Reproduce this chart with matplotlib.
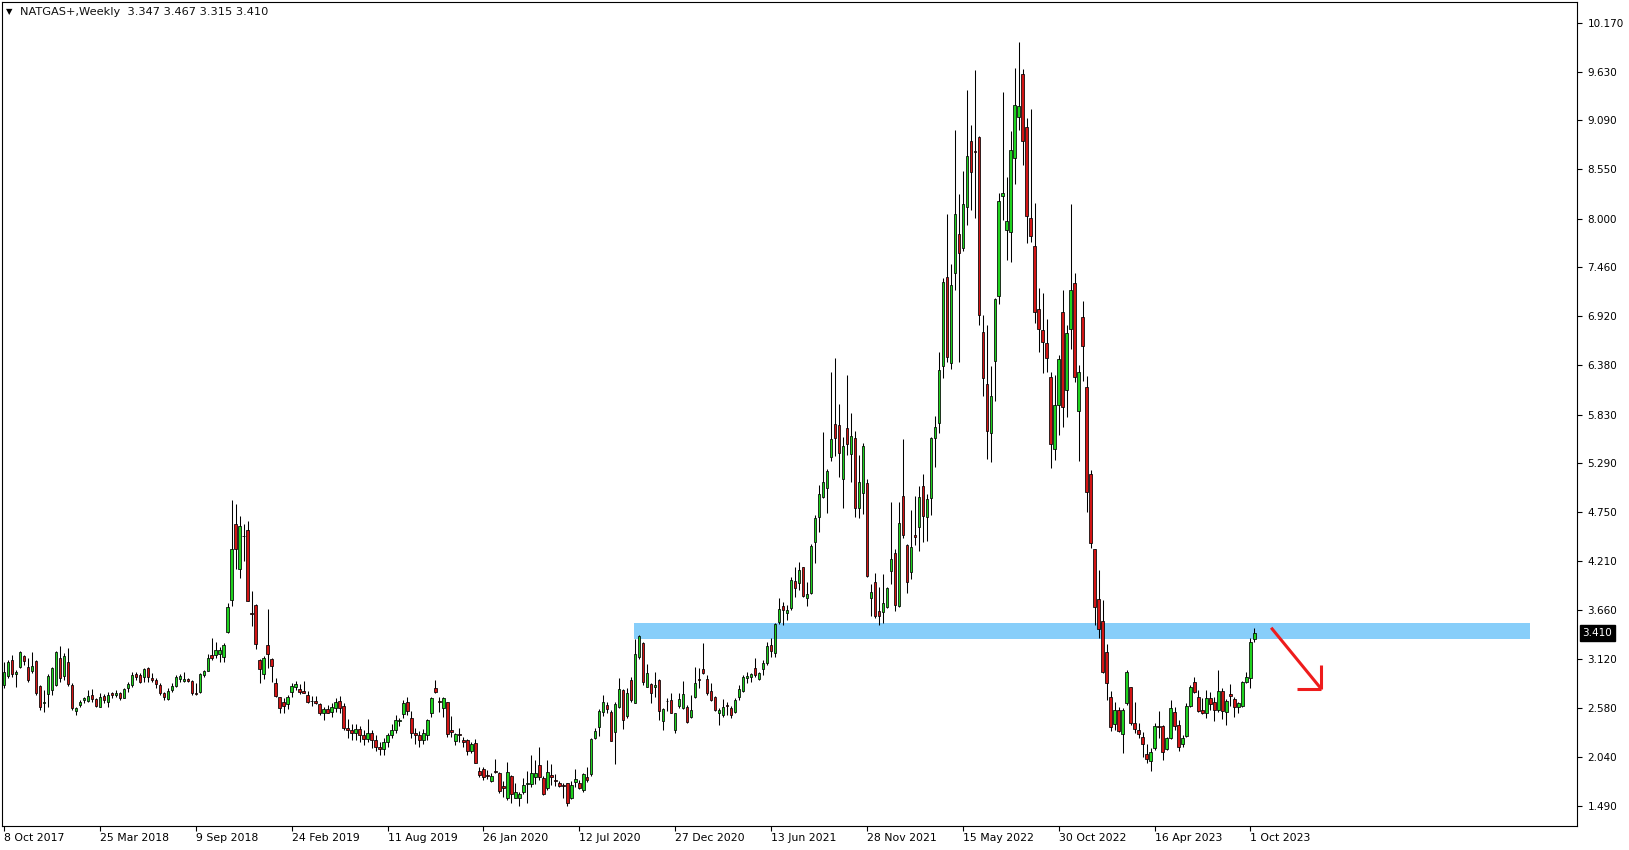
import matplotlib
matplotlib.use("Agg")
import matplotlib.pyplot as plt
from matplotlib.patches import Rectangle
import numpy as np

# weekly candles, first bar = week of 8 Oct 2017
opens = [
    2.833, 2.936, 3.110, 2.955, 3.029, 3.154, 3.029, 2.992, 3.099, 2.822,
    2.637, 2.730, 2.778, 2.833, 3.129, 2.933, 3.088, 2.833, 2.549, 2.611,
    2.667, 2.659, 2.722, 2.674, 2.593, 2.711, 2.648, 2.741, 2.722, 2.741,
    2.693, 2.796, 2.829, 2.955, 2.940, 2.918, 3.018, 2.907, 2.888, 2.833,
    2.748, 2.674, 2.778, 2.822, 2.896, 2.874, 2.896, 2.874, 2.748, 2.759,
    2.944, 2.992, 3.165, 3.165, 3.177, 3.147, 3.424, 3.775, 4.617, 4.115,
    4.490, 4.551, 3.628, 3.720, 3.110, 2.951, 3.276, 3.118, 2.859, 2.696,
    2.645, 2.619, 2.759, 2.814, 2.789, 2.770, 2.722, 2.659, 2.659, 2.622,
    2.527, 2.567, 2.538, 2.582, 2.656, 2.600, 2.360, 2.330, 2.300, 2.350,
    2.280, 2.240, 2.300, 2.220, 2.150, 2.120, 2.200, 2.280, 2.340, 2.430,
    2.510, 2.650, 2.470, 2.300, 2.280, 2.220, 2.280, 2.519, 2.796, 2.656,
    2.582, 2.641, 2.335, 2.213, 2.287, 2.224, 2.224, 2.106, 2.187, 1.880,
    1.902, 1.836, 1.773, 1.884, 1.862, 1.714, 1.585, 1.825, 1.585, 1.585,
    1.651, 1.732, 1.732, 1.810, 1.943, 1.799, 1.688, 1.836, 1.781, 1.751,
    1.725, 1.743, 1.577, 1.762, 1.743, 1.670, 1.817, 1.843, 2.242, 2.364,
    2.530, 2.612, 2.538, 2.316, 2.593, 2.778, 2.490, 2.889, 2.636, 3.139,
    3.301, 2.814, 2.840, 2.807, 2.888, 2.433, 2.660, 2.666, 2.330, 2.600,
    2.574, 2.592, 2.481, 2.703, 2.899, 3.006, 2.899, 2.766, 2.703, 2.518,
    2.500, 2.611, 2.574, 2.537, 2.703, 2.770, 2.914, 2.918, 3.017, 2.899,
    3.006, 3.072, 3.276, 3.183, 3.534, 3.708, 3.627, 3.682, 3.985, 3.959,
    4.137, 3.793, 3.848, 4.414, 4.698, 4.920, 5.020, 5.363, 5.721, 5.710,
    5.112, 5.677, 5.393, 5.566, 4.798, 4.957, 5.068, 3.800, 3.970, 3.656,
    3.645, 3.693, 4.100, 4.292, 3.712, 4.927, 4.384, 4.082, 4.495, 4.587,
    5.042, 4.698, 4.901, 5.566, 5.732, 6.367, 7.350, 6.397, 7.394, 7.830,
    7.671, 8.133, 8.861, 8.750, 8.909, 6.748, 6.168, 5.629, 6.426, 7.147,
    8.255, 7.875, 7.856, 8.669, 9.131, 9.603, 9.020, 8.004, 7.697, 6.995,
    6.766, 6.619, 6.242, 5.444, 5.935, 6.962, 6.101, 6.774, 7.284, 5.869,
    6.907, 6.131, 5.167, 4.336, 3.781, 3.546, 3.202, 2.696, 2.401, 2.556,
    2.286, 2.630, 2.807, 2.408, 2.334, 2.260, 2.068, 1.994, 2.131, 2.379,
    2.379, 2.120, 2.242, 2.537, 2.390, 2.179, 2.271, 2.600, 2.862, 2.704,
    2.556, 2.526, 2.685, 2.641, 2.556, 2.766, 2.537, 2.730, 2.678, 2.585,
    2.604, 2.862, 2.914, 3.347,
]
highs = [
    3.092, 3.110, 3.165, 3.000, 3.213, 3.165, 3.129, 3.202, 3.110, 2.833,
    2.778, 2.955, 3.036, 3.213, 3.269, 3.184, 3.239, 2.851, 2.593, 2.667,
    2.704, 2.778, 2.785, 2.685, 2.741, 2.733, 2.759, 2.759, 2.778, 2.759,
    2.796, 2.870, 2.981, 2.981, 2.962, 3.018, 3.036, 2.962, 2.907, 2.851,
    2.759, 2.796, 2.851, 2.944, 2.955, 2.981, 2.907, 2.888, 2.859, 2.962,
    3.000, 3.177, 3.350, 3.313, 3.258, 3.302, 3.738, 4.883, 4.839, 4.706,
    4.617, 4.651, 3.875, 3.731, 3.118, 3.155, 3.675, 3.129, 2.907, 2.704,
    2.685, 2.722, 2.851, 2.877, 2.844, 2.877, 2.767, 2.711, 2.711, 2.630,
    2.593, 2.611, 2.637, 2.685, 2.711, 2.630, 2.460, 2.400, 2.400, 2.380,
    2.330, 2.460, 2.330, 2.280, 2.200, 2.250, 2.300, 2.400, 2.500, 2.470,
    2.670, 2.700, 2.550, 2.360, 2.320, 2.350, 2.460, 2.704, 2.889, 2.704,
    2.704, 2.649, 2.490, 2.298, 2.353, 2.254, 2.235, 2.205, 2.235, 1.928,
    1.928, 1.891, 1.854, 2.013, 1.873, 1.773, 1.976, 1.836, 1.751, 1.651,
    1.806, 1.884, 2.058, 2.002, 2.143, 1.825, 2.002, 1.958, 1.847, 1.773,
    1.743, 1.751, 1.773, 1.899, 1.780, 1.862, 1.928, 2.242, 2.353, 2.564,
    2.722, 2.649, 2.556, 2.649, 2.907, 2.785, 2.796, 2.926, 3.338, 3.386,
    3.313, 3.061, 2.851, 2.980, 2.895, 2.574, 2.685, 2.747, 2.520, 2.740,
    2.877, 2.611, 2.722, 3.028, 3.017, 3.294, 2.943, 2.858, 2.711, 2.574,
    2.677, 2.648, 2.600, 2.685, 2.833, 2.943, 2.980, 2.969, 3.128, 2.980,
    3.109, 3.312, 3.350, 3.516, 3.793, 3.756, 3.719, 4.033, 4.144, 4.192,
    4.144, 3.970, 4.395, 4.717, 5.049, 5.633, 5.223, 6.305, 6.453, 5.947,
    5.577, 6.268, 5.843, 5.648, 5.382, 5.511, 5.112, 3.952, 4.070, 3.922,
    4.063, 3.922, 4.857, 4.336, 4.857, 5.559, 4.392, 4.772, 4.927, 5.038,
    5.171, 4.946, 5.585, 5.814, 6.526, 7.339, 8.052, 7.494, 8.983, 8.273,
    8.532, 9.426, 9.038, 9.648, 8.916, 6.933, 6.822, 6.367, 7.117, 8.288,
    9.408, 8.466, 8.975, 9.666, 9.962, 9.659, 9.112, 9.216, 8.177, 7.228,
    7.173, 6.885, 6.305, 6.268, 6.489, 7.209, 6.822, 8.163, 7.394, 6.379,
    7.088, 6.257, 5.215, 4.336, 4.107, 3.774, 3.287, 2.770, 2.648, 2.593,
    2.574, 2.999, 2.815, 2.648, 2.408, 2.316, 2.179, 2.131, 2.408, 2.545,
    2.390, 2.260, 2.667, 2.593, 2.445, 2.279, 2.630, 2.833, 2.918, 2.778,
    2.685, 2.778, 2.759, 2.704, 2.999, 2.796, 2.674, 2.844, 2.696, 2.648,
    2.877, 2.981, 3.350, 3.467,
]
lows = [
    2.796, 2.907, 2.925, 2.815, 3.018, 3.055, 2.870, 2.962, 2.722, 2.556,
    2.537, 2.586, 2.722, 2.822, 2.870, 2.888, 2.822, 2.556, 2.500, 2.593,
    2.630, 2.648, 2.648, 2.593, 2.586, 2.637, 2.593, 2.685, 2.704, 2.667,
    2.685, 2.759, 2.807, 2.888, 2.851, 2.870, 2.870, 2.870, 2.796, 2.722,
    2.667, 2.667, 2.759, 2.807, 2.870, 2.870, 2.870, 2.722, 2.722, 2.748,
    2.925, 2.988, 3.110, 3.129, 3.092, 3.092, 3.406, 3.709, 4.115, 4.015,
    4.211, 3.760, 3.491, 3.228, 2.852, 2.896, 3.018, 2.870, 2.704, 2.527,
    2.527, 2.563, 2.704, 2.778, 2.730, 2.741, 2.630, 2.600, 2.623, 2.497,
    2.445, 2.519, 2.482, 2.538, 2.527, 2.330, 2.250, 2.220, 2.220, 2.200,
    2.170, 2.200, 2.130, 2.100, 2.060, 2.060, 2.150, 2.250, 2.300, 2.380,
    2.470, 2.500, 2.250, 2.180, 2.150, 2.180, 2.220, 2.475, 2.741, 2.538,
    2.475, 2.261, 2.261, 2.168, 2.205, 2.143, 2.058, 2.076, 1.965, 1.817,
    1.780, 1.788, 1.762, 1.854, 1.640, 1.596, 1.559, 1.530, 1.577, 1.496,
    1.622, 1.529, 1.707, 1.736, 1.781, 1.614, 1.670, 1.725, 1.714, 1.699,
    1.577, 1.496, 1.566, 1.707, 1.677, 1.651, 1.762, 1.825, 2.231, 2.268,
    2.490, 2.519, 2.216, 1.958, 2.575, 2.342, 2.464, 2.649, 2.636, 3.117,
    2.832, 2.814, 2.629, 2.703, 2.444, 2.334, 2.544, 2.518, 2.300, 2.574,
    2.563, 2.415, 2.470, 2.685, 2.795, 2.955, 2.722, 2.659, 2.544, 2.389,
    2.481, 2.500, 2.463, 2.518, 2.666, 2.759, 2.851, 2.869, 2.918, 2.888,
    2.943, 3.054, 3.146, 3.139, 3.505, 3.497, 3.553, 3.664, 3.812, 3.885,
    3.812, 3.712, 3.841, 4.188, 4.532, 4.901, 4.742, 5.319, 5.371, 5.141,
    4.798, 5.382, 5.086, 4.698, 4.687, 4.724, 4.026, 3.601, 3.572, 3.498,
    3.516, 3.682, 3.952, 3.656, 3.701, 4.466, 3.856, 4.007, 4.384, 4.321,
    4.421, 4.432, 4.717, 5.252, 5.629, 6.231, 6.415, 6.330, 7.210, 6.415,
    7.646, 7.930, 8.096, 8.004, 6.822, 6.039, 5.333, 5.307, 5.983, 7.055,
    7.985, 7.542, 7.524, 8.384, 8.983, 8.595, 7.734, 7.745, 6.848, 6.526,
    6.286, 6.305, 5.233, 5.326, 5.603, 5.695, 5.806, 6.552, 6.194, 5.318,
    6.205, 4.753, 4.354, 3.497, 3.349, 2.962, 2.667, 2.327, 2.334, 2.316,
    2.083, 2.611, 2.390, 2.297, 2.242, 2.031, 1.965, 1.884, 2.113, 2.242,
    2.002, 2.113, 2.231, 2.334, 2.105, 2.150, 2.260, 2.585, 2.748, 2.537,
    2.512, 2.464, 2.556, 2.438, 2.537, 2.453, 2.390, 2.600, 2.475, 2.519,
    2.593, 2.859, 2.796, 3.315,
]
closes = [
    2.981, 3.092, 2.955, 2.981, 3.202, 3.103, 2.888, 3.044, 2.748, 2.593,
    2.648, 2.933, 3.018, 3.195, 2.907, 3.154, 2.840, 2.574, 2.578, 2.641,
    2.689, 2.711, 2.674, 2.600, 2.704, 2.667, 2.722, 2.722, 2.748, 2.693,
    2.785, 2.840, 2.940, 2.925, 2.870, 3.007, 2.918, 2.888, 2.840, 2.741,
    2.704, 2.770, 2.822, 2.918, 2.933, 2.899, 2.881, 2.748, 2.733, 2.955,
    2.988, 3.129, 3.129, 3.221, 3.221, 3.276, 3.694, 4.337, 4.337, 4.595,
    4.480, 3.768, 3.620, 3.284, 3.007, 3.129, 3.173, 3.047, 2.711, 2.582,
    2.604, 2.696, 2.822, 2.844, 2.759, 2.748, 2.648, 2.652, 2.630, 2.519,
    2.567, 2.527, 2.593, 2.648, 2.582, 2.360, 2.330, 2.300, 2.350, 2.280,
    2.240, 2.300, 2.220, 2.150, 2.120, 2.200, 2.280, 2.340, 2.450, 2.450,
    2.630, 2.540, 2.300, 2.280, 2.220, 2.300, 2.450, 2.686, 2.759, 2.648,
    2.686, 2.287, 2.316, 2.287, 2.276, 2.205, 2.102, 2.176, 1.973, 1.836,
    1.817, 1.829, 1.825, 1.869, 1.662, 1.696, 1.865, 1.622, 1.644, 1.625,
    1.725, 1.743, 1.854, 1.854, 1.810, 1.622, 1.865, 1.810, 1.773, 1.714,
    1.718, 1.522, 1.725, 1.788, 1.688, 1.847, 1.780, 2.231, 2.323, 2.545,
    2.641, 2.564, 2.216, 2.623, 2.785, 2.445, 2.741, 2.667, 3.176, 3.375,
    2.869, 2.962, 2.747, 2.829, 2.544, 2.563, 2.655, 2.526, 2.518, 2.673,
    2.729, 2.426, 2.555, 2.851, 2.888, 2.962, 2.740, 2.666, 2.555, 2.555,
    2.592, 2.603, 2.500, 2.666, 2.785, 2.918, 2.932, 2.951, 2.943, 2.962,
    3.072, 3.264, 3.213, 3.508, 3.671, 3.664, 3.664, 3.996, 3.904, 4.107,
    3.823, 3.841, 4.373, 4.680, 4.946, 5.079, 5.204, 5.559, 5.574, 5.400,
    5.481, 5.503, 5.596, 4.790, 5.079, 5.481, 4.041, 3.860, 3.601, 3.601,
    3.738, 3.904, 4.225, 3.719, 4.632, 4.495, 3.978, 4.358, 4.469, 4.920,
    4.709, 4.894, 5.566, 5.688, 6.323, 7.295, 6.463, 7.265, 8.052, 7.623,
    8.163, 8.695, 8.521, 8.743, 6.933, 6.231, 5.651, 6.035, 7.110, 8.196,
    8.285, 7.974, 8.761, 9.260, 9.249, 8.865, 8.033, 7.808, 6.969, 6.774,
    6.637, 6.452, 5.499, 5.935, 6.441, 5.909, 6.729, 7.210, 6.242, 6.297,
    6.589, 4.975, 4.410, 3.700, 3.449, 2.981, 2.851, 2.371, 2.556, 2.327,
    2.556, 2.973, 2.408, 2.342, 2.286, 2.175, 2.009, 2.094, 2.379, 2.364,
    2.087, 2.242, 2.574, 2.379, 2.150, 2.242, 2.600, 2.807, 2.759, 2.545,
    2.519, 2.685, 2.622, 2.556, 2.766, 2.549, 2.656, 2.715, 2.585, 2.630,
    2.862, 2.918, 3.306, 3.410,
]

date_labels = ["8 Oct 2017", "25 Mar 2018", "9 Sep 2018", "24 Feb 2019",
               "11 Aug 2019", "26 Jan 2020", "12 Jul 2020", "27 Dec 2020",
               "13 Jun 2021", "28 Nov 2021", "15 May 2022", "30 Oct 2022",
               "16 Apr 2023", "1 Oct 2023"]
weeks_per_label = 24
price_ticks = [1.490, 2.040, 2.580, 3.120, 3.660, 4.210, 4.750, 5.290, 5.830,
               6.380, 6.920, 7.460, 8.000, 8.550, 9.090, 9.630, 10.170]

# resistance zone and the drawn arrow (bar index / price)
zone_x = (157.75, 382.0)
zone_y = (3.343, 3.523)
arrow_from = (317.2, 3.468)
arrow_to = (329.75, 2.789)

BULL = "#1ed21e"
BEAR = "#d21414"

fig = plt.figure(figsize=(16.29, 8.5), dpi=100)
ax = fig.add_axes([2 / 1629, 24 / 850, 1575 / 1629, 824 / 850])

o = np.array(opens)
h = np.array(highs)
l = np.array(lows)
c = np.array(closes)
x = np.arange(len(c))
up = c >= o

ax.add_patch(Rectangle((zone_x[0], zone_y[0]), zone_x[1] - zone_x[0],
                       zone_y[1] - zone_y[0], color="#87cefa", lw=0, zorder=1))

ax.vlines(x, l, h, color="black", lw=0.75, zorder=2)
body_lo = np.minimum(o, c)
body_h = np.maximum(np.abs(c - o), 0.004)
ax.bar(x, body_h, bottom=body_lo, width=0.62,
       color=np.where(up, BULL, BEAR), edgecolor="black", linewidth=0.55, zorder=3)

# red arrow with a right-angle head
red = "#ee1c1c"
ax.plot([arrow_from[0], arrow_to[0]], [arrow_from[1], arrow_to[1]],
        color=red, lw=2.2, solid_capstyle="butt", zorder=4)
ax.plot([arrow_to[0] - 6, arrow_to[0]], [arrow_to[1], arrow_to[1]],
        color=red, lw=2.2, solid_capstyle="butt", zorder=4)
ax.plot([arrow_to[0], arrow_to[0]], [arrow_to[1] + 0.27, arrow_to[1]],
        color=red, lw=2.2, solid_capstyle="butt", zorder=4)

ax.set_xlim(-0.5, 393.75)
ax.set_ylim(1.271, 10.402)

ax.yaxis.tick_right()
ax.set_yticks(price_ticks)
ax.set_yticklabels([f"{p:.3f}" for p in price_ticks])
ax.tick_params(axis="y", direction="out", length=3.5, width=0.8, pad=4,
               labelsize=7.5, colors="black")

ax.set_xticks(np.arange(len(date_labels)) * weeks_per_label)
ax.set_xticklabels(date_labels)
for lab in ax.get_xticklabels():
    lab.set_ha("left")
ax.tick_params(axis="x", direction="out", length=3.5, width=0.8, pad=1.5,
               labelsize=7.8, colors="black")

for s in ax.spines.values():
    s.set_linewidth(0.8)
    s.set_color("black")

# last price tag on the axis
last = closes[-1]
ax.annotate(f"{last:.3f}", xy=(1.0, last), xycoords=("axes fraction", "data"),
            xytext=(4, 0), textcoords="offset points", va="center", ha="left",
            fontsize=7.5, color="white",
            bbox=dict(boxstyle="square,pad=0.25", fc="black", ec="black"))

fig.text(6 / 1629, 1 - 12 / 850, "\u25bc", fontsize=6, va="center", ha="left")
fig.text(20 / 1629, 1 - 12 / 850, "NATGAS+,Weekly  3.347 3.467 3.315 3.410",
         fontsize=8.2, va="center", ha="left", color="#101010")

fig.savefig("out.png", dpi=100)
